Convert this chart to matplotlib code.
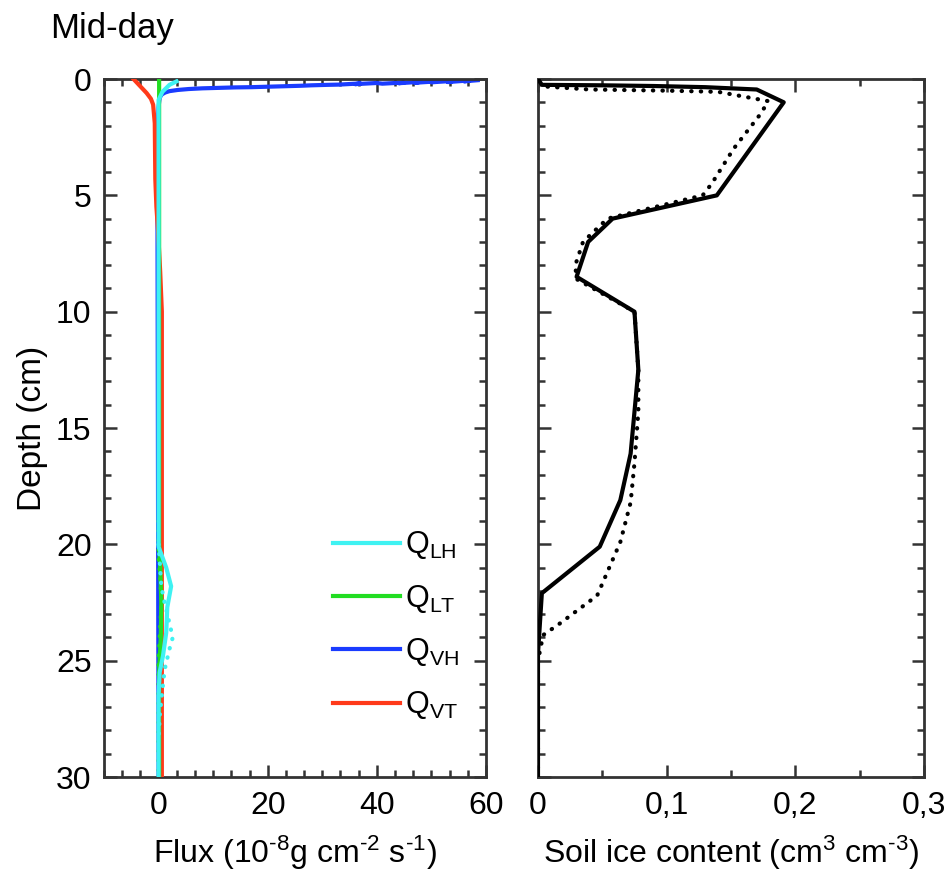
"""
Mid-day flux components and soil ice content profiles
"""

import matplotlib

matplotlib.use("Agg")
import matplotlib.pyplot as plt
from matplotlib.ticker import MultipleLocator, FixedLocator, FuncFormatter

plt.rcParams["font.family"] = ["Liberation Sans", "DejaVu Sans"]
plt.rcParams["mathtext.fontset"] = "custom"
plt.rcParams["mathtext.rm"] = "Liberation Sans"
plt.rcParams["mathtext.it"] = "Liberation Sans:italic"
plt.rcParams["mathtext.bf"] = "Liberation Sans:bold"

# ---- left panel: flux components (10^-8 g cm^-2 s^-1) vs depth (cm)
vh_flux = [58.5, 56.0, 57.0, 53.0, 54.0, 50.0, 51.0, 47.0, 48.0, 44.0, 45.0,
           41.0, 40.0, 36.0, 37.0, 33.0, 31.0, 28.0, 26.0, 23.0, 20.0, 17.0,
           14.0, 11.0, 8.0, 5.5, 3.5, 2.0, 1.2, 0.6, 0.2, 0.0, -0.2, -0.2, 0.0]
vh_depth = [0.05, 0.10, 0.06, 0.13, 0.08, 0.14, 0.10, 0.16, 0.12, 0.18, 0.15,
            0.20, 0.17, 0.22, 0.19, 0.24, 0.25, 0.27, 0.29, 0.31, 0.33, 0.35,
            0.36, 0.38, 0.40, 0.43, 0.47, 0.52, 0.58, 0.66, 0.80, 1.2, 3.0, 6.4, 30.0]

vt_flux = [-4.6, -3.6, -2.2, -1.4, -1.0, -0.7, -0.6, -0.4, -0.1, 0.3, 0.6, 0.6]
vt_depth = [0.0, 0.25, 0.6, 0.85, 1.1, 1.9, 4.3, 5.5, 6.5, 8.3, 10.0, 30.0]

lt_flux = [0.1, 0.1, 0.1, 0.3, 0.5, 0.4, 0.1, 0.1]
lt_depth = [0.0, 1.0, 20.0, 21.0, 22.5, 24.0, 25.5, 30.0]
lt_flux_dot = [0.0, 0.0, 0.3, 0.5, 0.3, 0.0, 0.0]
lt_depth_dot = [19.0, 20.5, 21.5, 22.5, 23.5, 25.0, 30.0]

lh_flux = [3.3, 2.0, 0.7, 0.0, 0.0, 0.0, 1.4, 2.3, 1.6, 1.4, 0.8, 0.2, 0.0, 0.0]
lh_depth = [0.1, 0.25, 0.55, 0.9, 5.0, 20.1, 21.0, 21.8, 22.7, 23.8, 24.8, 25.5, 26.5, 30.0]
lh_flux_dot = [0.0, 0.2, 0.5, 1.1, 2.0, 2.6, 2.0, 1.1, 0.5, 0.2, 0.0]
lh_depth_dot = [20.0, 20.7, 21.8, 22.5, 23.4, 24.0, 24.5, 25.4, 26.7, 27.4, 28.5]

# ---- right panel: soil ice content (cm3 cm-3) vs depth (cm)
ice_solid = [0.0, 0.003, 0.05, 0.09, 0.13, 0.170, 0.191, 0.139, 0.058, 0.039,
             0.030, 0.075, 0.078, 0.072, 0.064, 0.048, 0.003, 0.0, 0.0]
ice_solid_depth = [0.0, 0.25, 0.27, 0.30, 0.35, 0.45, 1.0, 5.0, 6.0, 7.0,
                   8.5, 10.0, 12.5, 16.1, 18.1, 20.1, 22.1, 24.7, 30.0]
ice_dot = [0.0, 0.04, 0.10, 0.14, 0.179, 0.173, 0.152, 0.135, 0.128, 0.054,
           0.035, 0.029, 0.030, 0.075, 0.078, 0.078, 0.075, 0.072, 0.064,
           0.046, 0.017, 0.004, 0.0, 0.0]
ice_dot_depth = [0.3, 0.45, 0.50, 0.55, 0.95, 1.5, 3.0, 4.5, 5.0, 6.0,
                 7.0, 8.0, 8.6, 10.0, 12.5, 14.3, 16.5, 18.2, 19.9,
                 22.2, 23.4, 23.9, 25.0, 30.0]

CYAN = "#3ff2f2"
GREEN = "#22dd22"
BLUE = "#1a3cff"
RED = "#ff3a1a"
SPINE = "#333333"
DOTS = (0, (0.1, 2.2))

fig = plt.figure(figsize=(9.5, 8.85), dpi=100)
ax1 = fig.add_axes([0.1095, 0.122, 0.402, 0.7887])
ax2 = fig.add_axes([0.5663, 0.122, 0.4063, 0.7887])

lw = 3.0
ax1.plot(vh_flux, vh_depth, color=BLUE, lw=lw, label=r"Q$_{\mathrm{VH}}$", zorder=2)
ax1.plot(vt_flux, vt_depth, color=RED, lw=lw, label=r"Q$_{\mathrm{VT}}$", zorder=3)
ax1.plot(lt_flux, lt_depth, color=GREEN, lw=lw, label=r"Q$_{\mathrm{LT}}$", zorder=4)
ax1.plot(lt_flux_dot, lt_depth_dot, color=GREEN, lw=lw, ls=DOTS,
         dash_capstyle="round", zorder=4)
ax1.plot(lh_flux, lh_depth, color=CYAN, lw=lw, label=r"Q$_{\mathrm{LH}}$", zorder=5)
ax1.plot(lh_flux_dot, lh_depth_dot, color=CYAN, lw=lw, ls=DOTS,
         dash_capstyle="round", zorder=5)

handles, labels = ax1.get_legend_handles_labels()
order = [3, 2, 0, 1]
ax1.legend(
    [handles[i] for i in order],
    [labels[i] for i in order],
    loc="upper left",
    bbox_to_anchor=(0.6, 0.355),
    frameon=False,
    fontsize=22,
    handlelength=2.2,
    handletextpad=0.15,
    labelspacing=0.70,
    borderpad=0,
    borderaxespad=0,
)

ax2.plot(ice_solid, ice_solid_depth, color="black", lw=3.0, zorder=3)
ax2.plot(ice_dot, ice_dot_depth, color="black", lw=3.0, ls=DOTS,
         dash_capstyle="round", zorder=2)

ax1.set_xlim(-10, 60)
ax2.set_xlim(0, 0.3)
for ax in (ax1, ax2):
    ax.set_ylim(30, 0)
    ax.yaxis.set_major_locator(MultipleLocator(5))
    ax.yaxis.set_minor_locator(MultipleLocator(1))
    ax.tick_params(which="both", direction="in", top=True, right=True,
                   color=SPINE, width=1.8, labelsize=23)
    ax.tick_params(which="major", length=9)
    ax.tick_params(which="minor", length=5)
    ax.tick_params(axis="x", pad=10)
    ax.tick_params(axis="y", pad=9)
    for sp in ax.spines.values():
        sp.set_color(SPINE)
        sp.set_linewidth(2)

ax1.xaxis.set_major_locator(FixedLocator([0, 20, 40, 60]))
ax1.xaxis.set_minor_locator(MultipleLocator(20 / 6))
ax2.xaxis.set_major_locator(MultipleLocator(0.1))
ax2.xaxis.set_minor_locator(MultipleLocator(0.05))
ax2.xaxis.set_major_formatter(
    FuncFormatter(lambda v, pos: "0" if abs(v) < 1e-9 else f"{v:.1f}".replace(".", ","))
)
ax2.tick_params(axis="y", labelleft=False)

ax1.set_ylabel("Depth (cm)", fontsize=24, labelpad=6)
ax1.set_xlabel(r"Flux (10$^{\text{-8}}$g cm$^{\text{-2}}$ s$^{\text{-1}}$)",
               fontsize=23, labelpad=9)
ax2.set_xlabel(r"Soil ice content (cm$^{\mathrm{3}}$ cm$^{\text{-3}}$)",
               fontsize=23, labelpad=9)

fig.text(50 / 950, 1 - 38 / 885, "Mid-day", fontsize=25, va="baseline", ha="left")

plt.savefig("out.png", dpi=100)
